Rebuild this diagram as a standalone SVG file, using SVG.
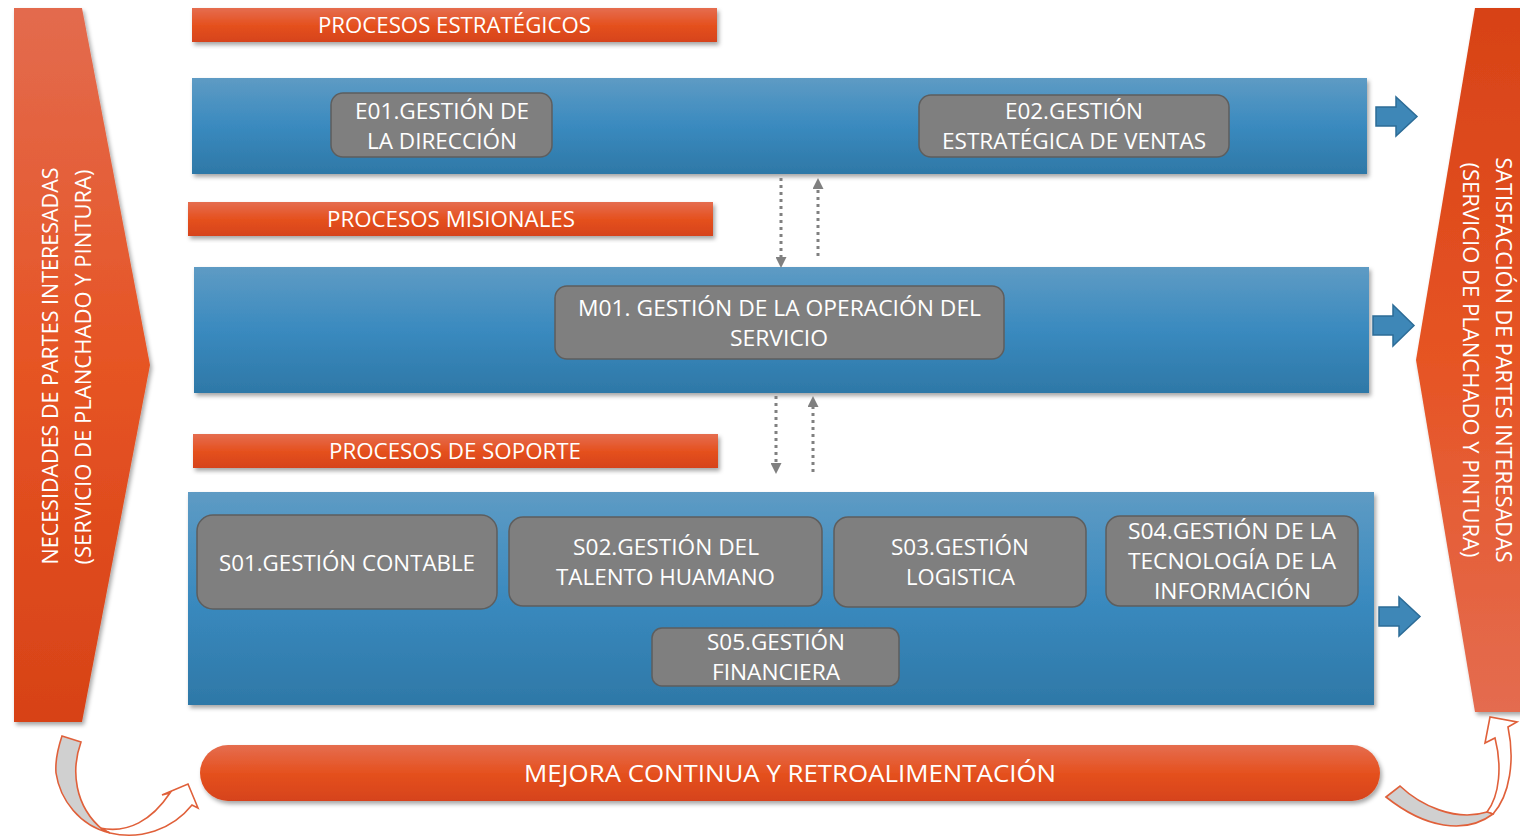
<svg xmlns="http://www.w3.org/2000/svg" width="1520" height="837" viewBox="0 0 1520 837">
<defs>
<linearGradient id="gOr" x1="0" y1="0" x2="0" y2="1">
<stop offset="0" stop-color="#E56D4F"/><stop offset="0.5" stop-color="#E5511F"/><stop offset="1" stop-color="#D6431A"/>
</linearGradient>
<linearGradient id="gBl" x1="0" y1="0" x2="0" y2="1">
<stop offset="0" stop-color="#5E9BC4"/><stop offset="0.5" stop-color="#3A8ABF"/><stop offset="1" stop-color="#2E78A7"/>
</linearGradient>
<linearGradient id="gL" x1="0" y1="0" x2="0" y2="1">
<stop offset="0" stop-color="#E36B4E"/><stop offset="0.5" stop-color="#E65424"/><stop offset="1" stop-color="#D74217"/>
</linearGradient>
<linearGradient id="gR" x1="0" y1="0" x2="0" y2="1">
<stop offset="0" stop-color="#D74217"/><stop offset="0.5" stop-color="#E65424"/><stop offset="1" stop-color="#E46C50"/>
</linearGradient>
<filter id="sh" x="-5%" y="-10%" width="110%" height="130%">
<feDropShadow dx="2" dy="3" stdDeviation="2" flood-color="#000" flood-opacity="0.35"/>
</filter>
<marker id="tri" viewBox="0 0 10 10" refX="0" refY="5" markerWidth="11" markerHeight="11" orient="auto" markerUnits="userSpaceOnUse">
<path d="M0,0 L10,5 L0,10 Z" fill="#808080"/>
</marker>
<style>
.t{font-family:"Open Sans","Liberation Sans",sans-serif;fill:#fff;font-size:22px;text-anchor:middle}
.big{font-size:21px}
.pill{font-size:24px}
.hdr{fill:url(#gOr);filter:url(#sh)}
.pan{fill:url(#gBl);filter:url(#sh)}
.box{fill:#7F7F7F;stroke:#5E5E5E;stroke-width:1.5}
.barr{fill:#3E87B7;stroke:#2C6C97;stroke-width:1.5}
.dot{stroke:#808080;stroke-width:3;stroke-dasharray:3 4;fill:none;marker-end:url(#tri)}
.cv{stroke:#E0603A;stroke-width:1.6}
</style>
</defs>
<rect width="1520" height="837" fill="#fff"/>

<g id="necesidades">
<path d="M14,8 L82,8 L150,365 L82,722 L14,722 Z" fill="url(#gL)" filter="url(#sh)"/>
<text class="t big" transform="translate(50,366) rotate(-90)" y="7.5" textLength="397" lengthAdjust="spacingAndGlyphs">NECESIDADES DE PARTES INTERESADAS</text>
<text class="t big" transform="translate(83,367) rotate(-90)" y="7.5" textLength="395" lengthAdjust="spacingAndGlyphs">(SERVICIO DE PLANCHADO Y PINTURA)</text>
</g>

<g id="satisfaccion">
<path d="M1475,8 L1522,8 L1522,712 L1475,712 L1416,360 Z" fill="url(#gR)" filter="url(#sh)"/>
<text class="t big" transform="translate(1503,360) rotate(90)" y="7.5" textLength="405" lengthAdjust="spacingAndGlyphs">SATISFACCIÓN DE PARTES INTERESADAS</text>
<text class="t big" transform="translate(1470,360) rotate(90)" y="7.5" textLength="395" lengthAdjust="spacingAndGlyphs">(SERVICIO DE PLANCHADO Y PINTURA)</text>
</g>

<g id="hdr-estrategicos">
<rect class="hdr" x="192" y="8" width="525" height="34"/>
<text class="t" x="454.5" y="33" textLength="273" lengthAdjust="spacingAndGlyphs">PROCESOS ESTRATÉGICOS</text>
</g>
<g id="hdr-misionales">
<rect class="hdr" x="188" y="202" width="525" height="34"/>
<text class="t" x="451" y="227" textLength="248" lengthAdjust="spacingAndGlyphs">PROCESOS MISIONALES</text>
</g>
<g id="hdr-soporte">
<rect class="hdr" x="193" y="434" width="525" height="34"/>
<text class="t" x="455" y="459" textLength="252" lengthAdjust="spacingAndGlyphs">PROCESOS DE SOPORTE</text>
</g>

<g id="panel-estrategicos"><rect class="pan" x="192" y="78" width="1175" height="96"/></g>
<g id="panel-misionales"><rect class="pan" x="194" y="267" width="1175" height="126"/></g>
<g id="panel-soporte"><rect class="pan" x="188" y="492" width="1186" height="213"/></g>

<g id="E01">
<rect class="box" x="331" y="93" width="221" height="64" rx="12"/>
<text class="t" x="442" y="119" textLength="174" lengthAdjust="spacingAndGlyphs">E01.GESTIÓN DE</text>
<text class="t" x="442" y="149" textLength="150" lengthAdjust="spacingAndGlyphs">LA DIRECCIÓN</text>
</g>
<g id="E02">
<rect class="box" x="919" y="95" width="310" height="62" rx="12"/>
<text class="t" x="1074" y="119" textLength="138" lengthAdjust="spacingAndGlyphs">E02.GESTIÓN</text>
<text class="t" x="1074" y="149" textLength="264" lengthAdjust="spacingAndGlyphs">ESTRATÉGICA DE VENTAS</text>
</g>
<g id="M01">
<rect class="box" x="555" y="286" width="449" height="73" rx="12"/>
<text class="t" x="779.5" y="316" textLength="403" lengthAdjust="spacingAndGlyphs">M01. GESTIÓN DE LA OPERACIÓN DEL</text>
<text class="t" x="779" y="346" textLength="98" lengthAdjust="spacingAndGlyphs">SERVICIO</text>
</g>
<g id="S01">
<rect class="box" x="197" y="515" width="300" height="94" rx="16"/>
<text class="t" x="347" y="571" textLength="256" lengthAdjust="spacingAndGlyphs">S01.GESTIÓN CONTABLE</text>
</g>
<g id="S02">
<rect class="box" x="509" y="517" width="313" height="89" rx="14"/>
<text class="t" x="666" y="555" textLength="186" lengthAdjust="spacingAndGlyphs">S02.GESTIÓN DEL</text>
<text class="t" x="665.5" y="585" textLength="219" lengthAdjust="spacingAndGlyphs">TALENTO HUAMANO</text>
</g>
<g id="S03">
<rect class="box" x="834" y="517" width="252" height="90" rx="14"/>
<text class="t" x="960" y="555" textLength="138" lengthAdjust="spacingAndGlyphs">S03.GESTIÓN</text>
<text class="t" x="960.5" y="585" textLength="109" lengthAdjust="spacingAndGlyphs">LOGISTICA</text>
</g>
<g id="S04">
<rect class="box" x="1106" y="516" width="252" height="90" rx="14"/>
<text class="t" x="1232" y="539" textLength="208" lengthAdjust="spacingAndGlyphs">S04.GESTIÓN DE LA</text>
<text class="t" x="1232" y="569" textLength="208" lengthAdjust="spacingAndGlyphs">TECNOLOGÍA DE LA</text>
<text class="t" x="1232.5" y="599" textLength="157" lengthAdjust="spacingAndGlyphs">INFORMACIÓN</text>
</g>
<g id="S05">
<rect class="box" x="652" y="628" width="247" height="58" rx="10"/>
<text class="t" x="776" y="650" textLength="138" lengthAdjust="spacingAndGlyphs">S05.GESTIÓN</text>
<text class="t" x="776" y="680" textLength="128" lengthAdjust="spacingAndGlyphs">FINANCIERA</text>
</g>

<g id="mejora">
<rect x="200" y="745" width="1180" height="56" rx="28" fill="url(#gOr)" filter="url(#sh)"/>
<text class="t pill" x="790" y="782" textLength="532" lengthAdjust="spacingAndGlyphs">MEJORA CONTINUA Y RETROALIMENTACIÓN</text>
</g>

<g id="connectors">
<line class="dot" x1="781" y1="178" x2="781" y2="257"/>
<line class="dot" x1="818" y1="256" x2="818" y2="189"/>
<line class="dot" x1="776" y1="396" x2="776" y2="463"/>
<line class="dot" x1="813" y1="472" x2="813" y2="407"/>
<polygon class="barr" points="1376,107 1396,107 1396,97 1417,116.5 1396,136 1396,126 1376,126"/>
<polygon class="barr" points="1373,316 1393,316 1393,305 1414,325.5 1393,346 1393,335 1373,335"/>
<polygon class="barr" points="1379,607 1399,607 1399,597 1420,616.5 1399,636 1399,626 1379,626"/>
<path class="cv" fill="#FFFFFF" d="M100,828 C128,834 152,820 170,793 L162,795 L188,784 L198,808 L192,805 C172,830 140,840 110,833 Z"/>
<path class="cv" fill="#D0D0D0" d="M62,736 L81,742 C71,770 74,806 103,830 L110,833 C80,826 60,800 56,773 C55,760 58,748 62,736 Z"/>
<path class="cv" fill="#FFFFFF" d="M1487,812 C1500,795 1502,765 1495,738 L1485,743 L1490,717 L1517,722 L1508,727 C1515,760 1510,795 1493,814 Z"/>
<path class="cv" fill="#D0D0D0" d="M1386,797 L1400,786 C1420,805 1455,822 1487,812 L1493,814 C1465,835 1425,828 1386,797 Z"/>
</g>
</svg>
